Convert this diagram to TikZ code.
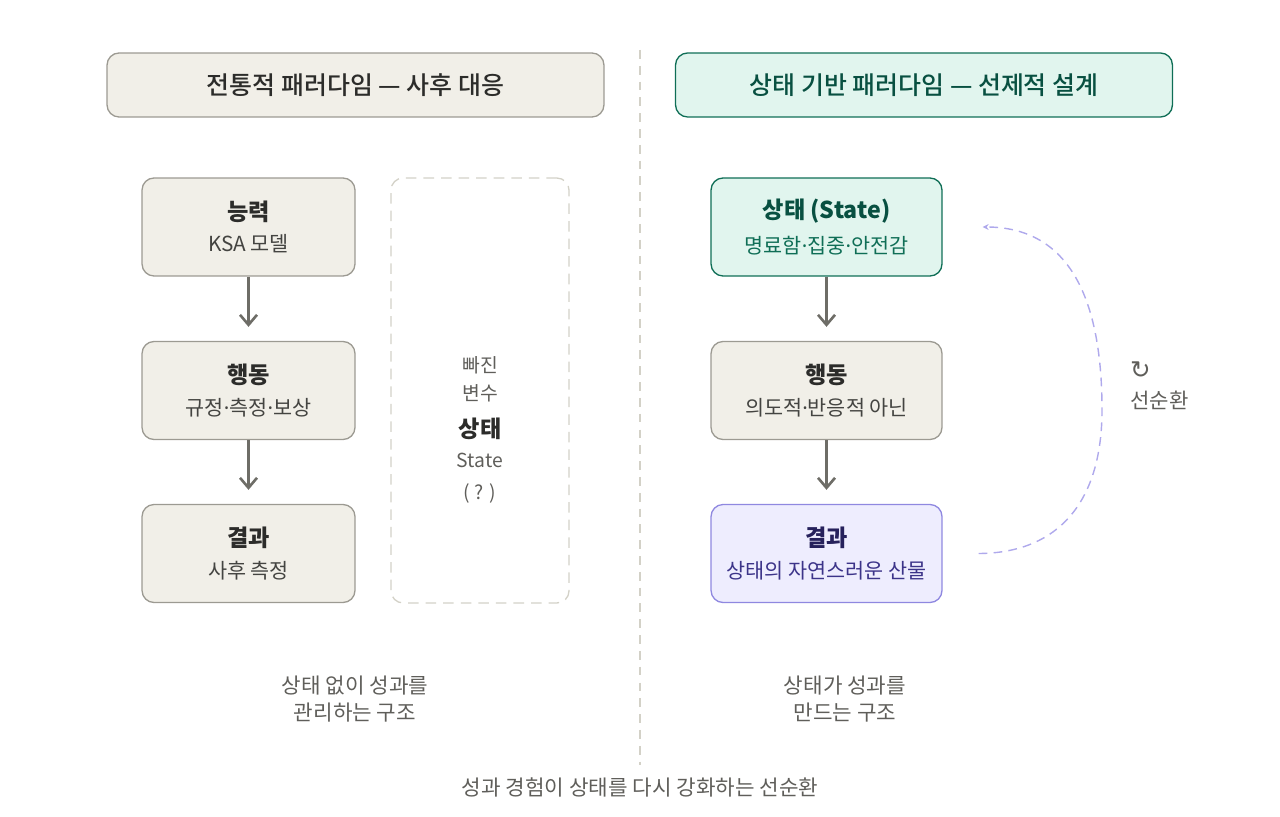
\documentclass[tikz,border=0pt]{standalone}
\usepackage{fontspec}
\setmainfont{Noto Sans CJK KR}
\newfontfamily\medfont{Noto Sans CJK KR Medium}
\newfontfamily\symfont{DejaVu Sans}
\newfontfamily\latfont{Noto Sans}
\usetikzlibrary{arrows.meta}

\definecolor{sandFill}{HTML}{F1EFE8}
\definecolor{sandLine}{HTML}{9C9A92}
\definecolor{mintFill}{HTML}{E1F5EE}
\definecolor{mintLine}{HTML}{0F6E56}
\definecolor{mintInk}{HTML}{085041}
\definecolor{lilacFill}{HTML}{EEEDFE}
\definecolor{lilacLine}{HTML}{8F88E0}
\definecolor{lilacInk}{HTML}{26215C}
\definecolor{lilacSub}{HTML}{3C3489}
\definecolor{loopCol}{HTML}{AFA9EC}
\definecolor{ink}{HTML}{2C2C2A}
\definecolor{inkSoft}{HTML}{444441}
\definecolor{inkMute}{HTML}{5F5E5A}
\definecolor{arrowGray}{HTML}{6E6D67}
\definecolor{dashGray}{HTML}{D3D1C7}

\newcommand{\hdsz}{\fontsize{14.2pt}{17pt}\selectfont}
\newcommand{\ttsz}{\fontsize{13.2pt}{16pt}\selectfont}
\newcommand{\sbsz}{\fontsize{11.8pt}{17pt}\selectfont}
\newcommand{\ftsz}{\fontsize{12.1pt}{15.3pt}\selectfont}
\newcommand{\mdot}{{\latfont ·}}

\begin{document}
\begin{tikzpicture}[x=0.02cm,y=-0.02cm,
  header/.style={rounded corners=0.24cm, line width=0.75pt, minimum width=9.94cm, minimum height=1.28cm, font=\hdsz\medfont},
  card/.style={rounded corners=0.24cm, line width=0.75pt, minimum height=1.96cm, align=center},
  sandcard/.style={card, draw=sandLine, fill=sandFill, minimum width=4.26cm},
  flow/.style={draw=arrowGray, line width=1.5pt, -{Straight Barb[length=0.2cm,width=0.34cm]}, shorten >=0.28cm},
  foot/.style={align=center, text=inkMute, font=\ftsz}]
\useasboundingbox (0,0) rectangle (1280,817);

\path[draw, dashGray, line width=0.6pt, dash pattern=on 5pt off 4pt] (640,50) -- (640,765);

% headers
\node[draw=sandLine, fill=sandFill, header, text=ink] (nodeHeadL) at (355.5,85) {전통적 패러다임 — 사후 대응};
\node[draw=mintLine, fill=mintFill, header, text=mintInk] (nodeHeadR) at (924,85) {상태 기반 패러다임 — 선제적 설계};

% left column
\node[sandcard, text=ink] (nodeCap) at (248.5,227) {{\ttsz\bfseries 능력}\\[6pt]{\sbsz\color{inkSoft}KSA 모델}};
\node[sandcard, text=ink] (nodeActL) at (248.5,390.5) {{\ttsz\bfseries 행동}\\[6pt]{\sbsz\color{inkSoft}규정\mdot 측정\mdot 보상}};
\node[sandcard, text=ink] (nodeResL) at (248.5,553.5) {{\ttsz\bfseries 결과}\\[6pt]{\sbsz\color{inkSoft}사후 측정}};
\path[flow] (nodeCap.south) -- (nodeActL.north);
\path[flow] (nodeActL.south) -- (nodeResL.north);

\node[card, draw=dashGray, line width=0.75pt, dash pattern=on 6pt off 4pt, minimum width=3.56cm, minimum height=8.5cm] (nodeGap) at (480,390.5) {};
\node[align=center, text=inkMute, font=\fontsize{11pt}{16pt}\selectfont] (nodeMiss) at (480,430) {빠진\\변수\\[5pt]{\fontsize{13.2pt}{16pt}\selectfont\bfseries\color{ink}상태}\\[1pt]State\\[2pt]( ? )};

% right column
\node[card, draw=mintLine, fill=mintFill, minimum width=4.62cm, text=mintInk] (nodeSta) at (826.5,227) {{\ttsz\bfseries 상태 (State)}\\[6pt]{\sbsz\color{mintLine}명료함\mdot 집중\mdot 안전감}};
\node[sandcard, minimum width=4.62cm, text=ink] (nodeActR) at (826.5,390.5) {{\ttsz\bfseries 행동}\\[6pt]{\sbsz\color{inkSoft}의도적\mdot 반응적 아닌}};
\node[card, draw=lilacLine, fill=lilacFill, minimum width=4.62cm, text=lilacInk] (nodeResR) at (826.5,553.5) {{\ttsz\bfseries 결과}\\[6pt]{\sbsz\color{lilacSub}상태의 자연스러운 산물}};
\path[flow] (nodeSta.south) -- (nodeActR.north);
\path[flow] (nodeActR.south) -- (nodeResR.north);

\coordinate (loopS) at ([xshift=0.72cm]nodeResR.east);
\coordinate (loopE) at ([xshift=0.8cm]nodeSta.east);
\path[draw=loopCol, line width=0.8pt, dash pattern=on 5pt off 3.5pt, -{Stealth[length=0.12cm,width=0.12cm]}]
  (loopS) .. controls (1060,553) and (1102,500) .. (1102,410) .. controls (1102,300) and (1070,227) .. (loopE);
\node[anchor=west, align=left, text=inkMute, font=\fontsize{12pt}{16pt}\selectfont] (nodeLoop) at (1124,386) {{\symfont\fontsize{14pt}{16pt}\selectfont ↻}\\[1pt]선순환};

% footers
\node[foot] (nodeFootL) at (355,699) {상태 없이 성과를\\관리하는 구조};
\node[foot] (nodeFootR) at (845,699) {상태가 성과를\\만드는 구조};
\node[foot] (nodeFoot) at (640,787) {성과 경험이 상태를 다시 강화하는 선순환};
\end{tikzpicture}
\end{document}
